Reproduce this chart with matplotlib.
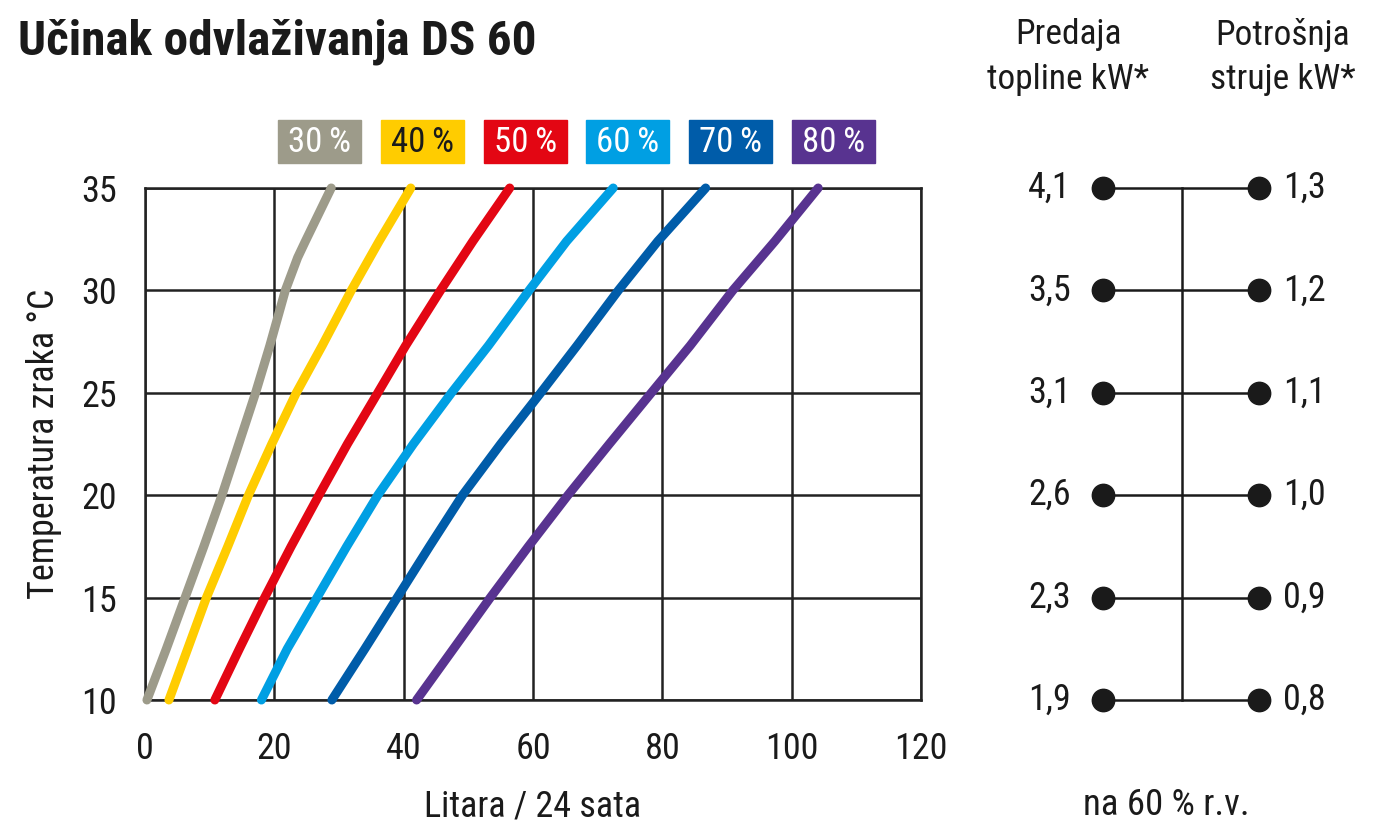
import numpy as np
import matplotlib.pyplot as plt
from matplotlib.patches import Rectangle

plt.rcParams['font.family'] = ['Roboto Condensed', 'Liberation Sans Narrow', 'Liberation Sans', 'DejaVu Sans']

# data
labels = ['30\u2009%', '40\u2009%', '50\u2009%', '60\u2009%', '70\u2009%', '80\u2009%']
colors = ['#9d9b8a', '#ffcc00', '#e30613', '#009fe3', '#005ca9', '#583390']
text_colors = ['white', '#1a1a1a', 'white', 'white', 'white', 'white']

temp_gray = [10, 12.5, 15, 17.5, 20, 22.5, 25, 27.3, 30, 31.6, 32.4, 35]
lit_gray = [0.3, 3.3, 6.2, 9.1, 11.9, 14.5, 17.1, 19.3, 21.7, 23.6, 24.8, 28.8]

temp = [10, 12.5, 15, 17.5, 20, 22.5, 25, 27.3, 30, 32.4, 35]
lit_40 = [3.7, 6.6, 9.5, 12.8, 16.0, 19.6, 23.4, 27.4, 31.9, 36.2, 41.1]
lit_50 = [10.8, 14.6, 18.5, 22.6, 26.9, 31.3, 36.0, 40.3, 45.7, 50.7, 56.4]
lit_60 = [18.0, 22.0, 26.6, 31.2, 36.0, 41.5, 47.4, 53.1, 59.4, 65.2, 72.4]
lit_70 = [28.9, 34.0, 39.0, 44.0, 49.1, 55.0, 61.2, 66.8, 73.2, 79.3, 86.7]
lit_80 = [42.0, 47.7, 53.4, 59.3, 65.4, 71.8, 78.3, 84.3, 90.9, 97.4, 104.1]

levels = [35, 30, 25, 20, 15, 10]
heat_kw = ['4,1', '3,5', '3,1', '2,6', '2,3', '1,9']
power_kw = ['1,3', '1,2', '1,1', '1,0', '0,9', '0,8']

W, H = 1400, 835
ink = '#1a1a1a'
fig = plt.figure(figsize=(14, 8.35), dpi=100)

ax = fig.add_axes([145 / W, 1 - 700 / H, (921 - 145) / W, (700 - 188) / H])
ax.set_xlim(0, 120)
ax.set_ylim(10, 35)
ax.set_xticks(range(0, 121, 20))
ax.set_yticks(range(10, 36, 5))
ax.grid(True, color='#222222', lw=1.8)
ax.set_axisbelow(True)
for s in ax.spines.values():
    s.set_color('#222222')
    s.set_linewidth(1.8)
ax.tick_params(axis='x', length=0, labelsize=26, colors=ink, pad=22)
ax.tick_params(axis='y', length=0, labelsize=26, colors=ink, pad=20)

series = [(lit_gray, temp_gray), (lit_40, temp), (lit_50, temp),
          (lit_60, temp), (lit_70, temp), (lit_80, temp)]
for (xs, ys), c in zip(series, colors):
    ax.plot(xs, ys, color=c, lw=6.5, solid_capstyle='round', solid_joinstyle='round',
            clip_on=False, zorder=3)

ax.set_xlabel('Litara / 24 sata', fontsize=26, color=ink, labelpad=16)
ax.set_ylabel('Temperatura zraka °C', fontsize=26, color=ink, labelpad=14)

fig.text(18 / W, 1 - 42 / H, 'Učinak odvlaživanja DS 60', fontsize=35.5, fontweight='bold',
         color=ink, va='center', ha='left')

# legend boxes
box_x = [278, 381, 484, 586, 689, 792]
box_w = 83
for bx, lab, c, tc in zip(box_x, labels, colors, text_colors):
    fig.patches.append(Rectangle((bx / W, 1 - 163 / H), box_w / W, 43 / H,
                                 transform=fig.transFigure, color=c, zorder=1))
    fig.text((bx + box_w / 2) / W, 1 - 142 / H, lab, fontsize=25, color=tc,
             ha='center', va='center')

# right panel
ax2 = fig.add_axes([1000 / W, 1 - 700 / H, 400 / W, (700 - 188) / H])
ax2.set_xlim(1000, 1400)
ax2.set_ylim(10, 35)
ax2.axis('off')
ax2.plot([1182, 1182], [min(levels), max(levels)], color=ink, lw=1.8, clip_on=False)
for lv, hk, pk in zip(levels, heat_kw, power_kw):
    ax2.plot([1103, 1259], [lv, lv], color=ink, lw=1.8, clip_on=False)
    ax2.scatter([1103, 1259], [lv, lv], s=260, color=ink, zorder=3, clip_on=False)
    ax2.text(1071, lv, hk, fontsize=26, color=ink, ha='right', va='center')
    ax2.text(1283, lv, pk, fontsize=26, color=ink, ha='left', va='center')

fig.text(1068 / W, 1 - 57 / H, 'Predaja\ntopline kW*', fontsize=25.5, color=ink,
         ha='center', va='center', linespacing=1.45)
fig.text(1283 / W, 1 - 57 / H, 'Potrošnja\nstruje kW*', fontsize=25.5, color=ink,
         ha='center', va='center', linespacing=1.45)
fig.text(1166 / W, 1 - 805 / H, 'na 60 % r.v.', fontsize=26.5, color=ink,
         ha='center', va='center')

fig.savefig('out.png', dpi=100, facecolor='white')
